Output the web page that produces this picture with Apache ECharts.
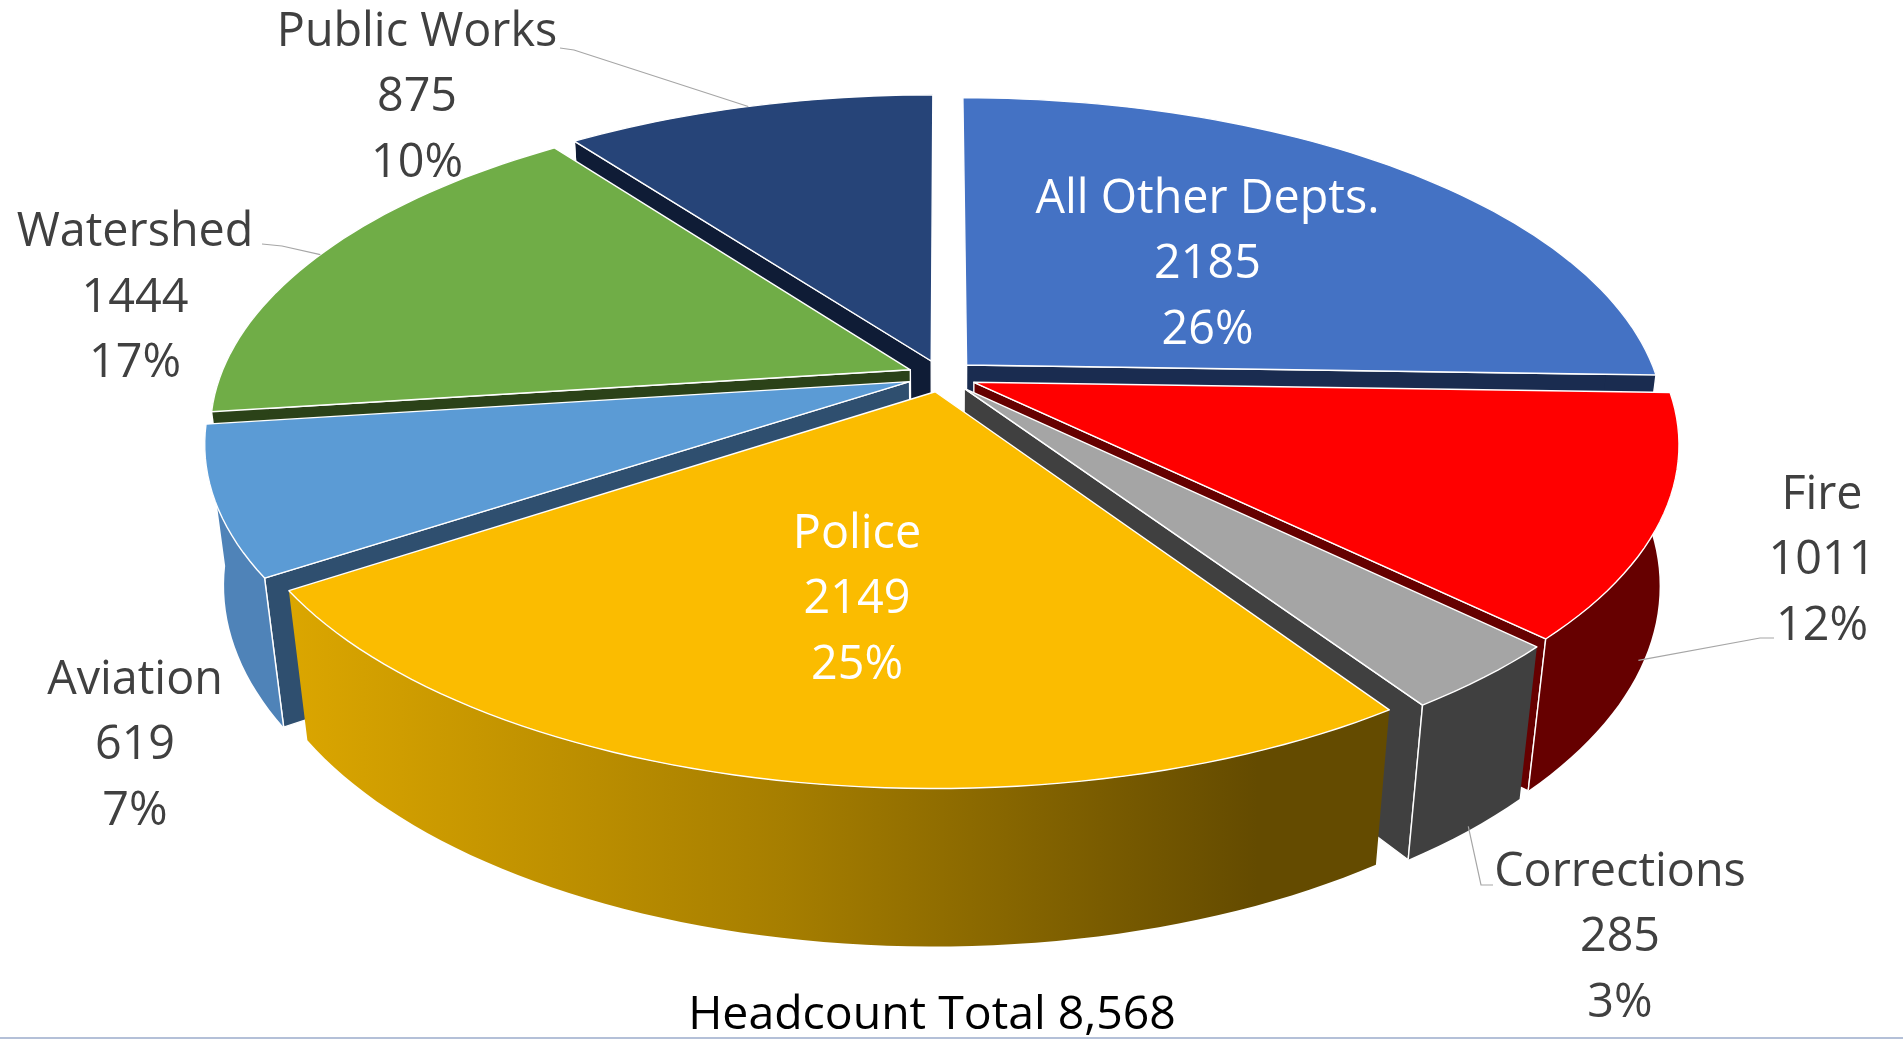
<!DOCTYPE html>
<html>
<head>
<meta charset="utf-8">
<title>Headcount by department</title>
<script src="https://cdn.jsdelivr.net/npm/echarts@6/dist/echarts.min.js"></script>
<style>
  html, body { margin: 0; padding: 0; background: #fff; }
  #chart { width: 1903px; height: 1039px; }
</style>
</head>
<body>
<div id="chart"></div>
<script>
// Headcount per department, clockwise from twelve o'clock.
const departments = ['All Other Depts.', 'Fire', 'Corrections', 'Police', 'Aviation', 'Watershed', 'Public Works'];
const headcount = [2185, 1011, 285, 2149, 619, 1444, 875];
const totalCaption = 'Headcount Total 8,568';

// Face colours of each wedge.
const topColors = ['#4472c4', '#ff0000', '#a5a5a5', '#fbbc00', '#5b9bd5', '#70ad47', '#264478'];
const rimColors = ['#1a2c50', '#660000', '#404040', null, '#4f83b8', '#2b4218', '#0f1c36'];
const wallColors = ['#1a2c50', '#660000', '#404040', '#645000', '#2f4f6f', '#2b4218', '#0f1c36'];

// Perspective camera for the tilted disc.
const view = { cx: 942, cy: 376, rx: 690, ry: 319, tilt: 0.18, depth: 143, taper: 0.026, explode: 0.05 };

// Where each label block sits, its ink colour and, optionally, its leader line.
const labelLayout = [
  { x: 1207.5, y: 199.5, fill: '#ffffff' },
  { x: 1822, y: 495.5, fill: '#404040', knee: [[1760, 638], [1774, 638]], wall: 0.89, deg: 115 },
  { x: 1620, y: 872.5, fill: '#404040', knee: [[1481, 885], [1493, 885]], wall: 0.97 },
  { x: 857, y: 534.5, fill: '#ffffff' },
  { x: 135, y: 680.5, fill: '#404040' },
  { x: 135, y: 233, fill: '#404040', knee: [[282, 246], [262, 244]], wall: 0 },
  { x: 417, y: 32.5, fill: '#404040', knee: [[574, 50], [560, 48]], wall: 0 }
];
const LINE_GAP = 65.5;
const TEXT_FONT = '46.7px "Open Sans", sans-serif';
const CAPTION_FONT = '46.4px "Open Sans", sans-serif';

const total = headcount.reduce((a, b) => a + b, 0);

// Turn a point on the unit disc (t = 0 top face, t = 1 underside) into screen pixels.
function project(x, y, t) {
  const w = 1 + view.tilt * y + view.taper * t;
  return [view.cx + view.rx * x / w, view.cy + (-view.ry * y + view.depth * t) / w];
}

// Angular extents, measured clockwise from the top.
const wedges = [];
let running = 0;
headcount.forEach((v, i) => {
  const start = running / total * Math.PI * 2;
  running += v;
  const end = running / total * Math.PI * 2;
  const mid = (start + end) / 2;
  wedges.push({
    index: i, start, end, mid,
    ox: Math.sin(mid) * view.explode,
    oy: Math.cos(mid) * view.explode
  });
});

function rimPoint(w, a, t) {
  return project(w.ox + Math.sin(a), w.oy + Math.cos(a), t);
}
function apexPoint(w, t) {
  return project(w.ox, w.oy, t);
}

// Further wedges paint first so nearer ones overlap them.
const paintOrder = wedges.slice().sort((a, b) => b.oy - a.oy).map(w => w.index);

// The curved wall only matters on the part of the rim that turns toward the viewer.
const FACING_LIMIT = 0.2;

function renderWedge(params, api) {
  const w = wedges[api.value(0)];
  const i = w.index;
  const steps = Math.max(4, Math.ceil((w.end - w.start) / (Math.PI / 120)));
  const topArc = [], wallTop = [], wallLow = [];
  for (let s = 0; s <= steps; s++) {
    const a = w.start + (w.end - w.start) * s / steps;
    topArc.push(rimPoint(w, a, 0));
    if (Math.cos(a) < FACING_LIMIT) {
      wallTop.push(rimPoint(w, a, 0));
      wallLow.push(rimPoint(w, a, 1));
    }
  }
  const edge = { stroke: '#ffffff', lineWidth: 1.4, lineJoin: 'round' };
  const wallFill = rimColors[i] || {
    type: 'linear', x: 0, y: 0, x2: 1, y2: 0,
    colorStops: [
      { offset: 0, color: '#dba600' },
      { offset: 0.45, color: '#a67e00' },
      { offset: 0.88, color: '#644b00' },
      { offset: 1, color: '#644b00' }
    ]
  };
  const children = [];
  // Flat cut faces: the start face looks at the viewer on the left half, the end face on the right.
  const cutFace = a => ({
    type: 'polygon',
    shape: { points: [apexPoint(w, 0), rimPoint(w, a, 0), rimPoint(w, a, 1), apexPoint(w, 1)] },
    style: Object.assign({ fill: wallColors[i] }, edge)
  });
  const corner = a => {
    const p = rimPoint(w, a, 0), q = rimPoint(w, a, 1);
    return {
      type: 'line',
      shape: { x1: p[0], y1: p[1], x2: q[0], y2: q[1] },
      style: { stroke: '#ffffff', lineWidth: 1.4 }
    };
  };
  const startVisible = Math.sin(w.start) < -1e-6;
  const endVisible = Math.sin(w.end) > 1e-6;
  if (startVisible) children.push(cutFace(w.start));
  if (endVisible) children.push(cutFace(w.end));
  if (wallTop.length > 1) {
    children.push({
      type: 'polygon',
      shape: { points: wallTop.concat(wallLow.slice().reverse()) },
      style: { fill: wallFill }
    });
  }
  if (startVisible) children.push(corner(w.start));
  if (endVisible) children.push(corner(w.end));
  children.push({
    type: 'polygon',
    shape: { points: [apexPoint(w, 0)].concat(topArc) },
    style: Object.assign({ fill: topColors[i] }, edge)
  });
  return { type: 'group', children };
}

function renderLabel(params, api) {
  const i = api.value(0);
  const layout = labelLayout[i];
  const lines = [departments[i], String(headcount[i]), Math.round(headcount[i] / total * 100) + '%'];
  const children = lines.map((text, n) => ({
    type: 'text',
    x: layout.x,
    y: layout.y + n * LINE_GAP,
    style: { text, fill: layout.fill, font: TEXT_FONT, align: 'center', verticalAlign: 'middle' }
  }));
  if (layout.knee) {
    const angle = layout.deg ? layout.deg * Math.PI / 180 : wedges[i].mid;
    children.unshift({
      type: 'polyline',
      shape: { points: [rimPoint(wedges[i], angle, layout.wall)].concat(layout.knee) },
      style: { fill: null, stroke: '#a6a6a6', lineWidth: 1.2 }
    });
  }
  return { type: 'group', children };
}

const chart = echarts.init(document.getElementById('chart'), null, { renderer: 'canvas' });
chart.setOption({
  animation: false,
  backgroundColor: '#ffffff',
  graphic: [
    {
      type: 'text', x: 932, y: 1015.5, z: 10,
      style: { text: totalCaption, fill: '#000000', font: CAPTION_FONT, align: 'center', verticalAlign: 'middle' }
    },
    {
      type: 'rect', z: 10,
      shape: { x: 0, y: 1037, width: 1903, height: 2 },
      style: { fill: '#b4c0d8' }
    }
  ],
  series: [
    {
      type: 'custom',
      coordinateSystem: 'none',
      silent: true,
      z: 2,
      renderItem: renderWedge,
      data: paintOrder.map(i => [i, headcount[i]])
    },
    {
      type: 'custom',
      coordinateSystem: 'none',
      silent: true,
      z: 3,
      renderItem: renderLabel,
      data: departments.map((name, i) => [i, headcount[i]])
    }
  ]
});
</script>
</body>
</html>
